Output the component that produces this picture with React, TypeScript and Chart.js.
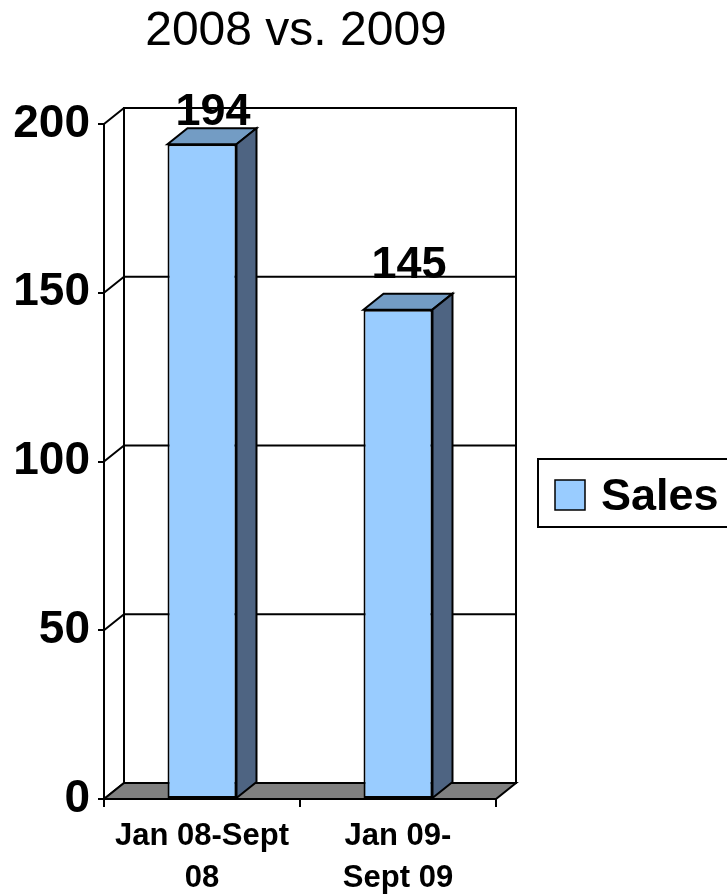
import React, { useEffect, useRef } from "react";
import { Chart, registerables } from "chart.js";

Chart.register(...registerables);

const categories: string[][] = [["Jan 08-Sept", "08"], ["Jan 09-", "Sept 09"]];
const salesValues: number[] = [194, 145];
const seriesName = "Sales";
const chartTitle = "2008 vs. 2009";
const yMin = 0;
const yMax = 200;
const yStep = 50;

const FONT = '"Liberation Sans", Arial, Helvetica, sans-serif';
const FRONT = "#99CCFF";
const TOP = "#739CC4";
const SIDE = "#4E6482";
const FLOOR = "#808080";
const DX = 20;
const DY = -16;
const LW = 2;

const threeD = {
  id: "threeD",
  beforeDatasetsDraw(chart: any) {
    const { ctx, chartArea: a, scales } = chart;
    const y = scales.y;
    ctx.save();
    ctx.lineWidth = LW;
    ctx.strokeStyle = "#000";
    // back wall
    ctx.fillStyle = "#fff";
    ctx.fillRect(a.left + DX, a.top + DY, a.width, a.height);
    ctx.strokeRect(a.left + DX, a.top + DY, a.width, a.height);
    // gridlines on back wall + side wall diagonals
    y.ticks.forEach((t: any) => {
      const py = y.getPixelForValue(t.value);
      ctx.beginPath();
      ctx.moveTo(a.left + DX, py + DY);
      ctx.lineTo(a.right + DX, py + DY);
      ctx.moveTo(a.left, py);
      ctx.lineTo(a.left + DX, py + DY);
      ctx.stroke();
    });
    // floor
    ctx.beginPath();
    ctx.moveTo(a.left, a.bottom);
    ctx.lineTo(a.right, a.bottom);
    ctx.lineTo(a.right + DX, a.bottom + DY);
    ctx.lineTo(a.left + DX, a.bottom + DY);
    ctx.closePath();
    ctx.fillStyle = FLOOR;
    ctx.fill();
    ctx.stroke();
    ctx.restore();
  },
  afterDatasetsDraw(chart: any) {
    const { ctx, chartArea: a } = chart;
    const meta = chart.getDatasetMeta(0);
    ctx.save();
    ctx.lineWidth = LW;
    ctx.strokeStyle = "#000";
    ctx.lineJoin = "miter";
    meta.data.forEach((bar: any, i: number) => {
      const { x, y, width, base } = bar.getProps(["x", "y", "width", "base"], true);
      const l = x - width / 2;
      const r = x + width / 2;
      // top face
      ctx.beginPath();
      ctx.moveTo(l, y);
      ctx.lineTo(r, y);
      ctx.lineTo(r + DX, y + DY);
      ctx.lineTo(l + DX, y + DY);
      ctx.closePath();
      ctx.fillStyle = TOP;
      ctx.fill();
      ctx.stroke();
      // side face
      ctx.beginPath();
      ctx.moveTo(r, y);
      ctx.lineTo(r + DX, y + DY);
      ctx.lineTo(r + DX, base + DY);
      ctx.lineTo(r, base);
      ctx.closePath();
      ctx.fillStyle = SIDE;
      ctx.fill();
      ctx.stroke();
      // value label
      const v = chart.data.datasets[0].data[i];
      ctx.fillStyle = "#000";
      ctx.font = `bold 45px ${FONT}`;
      ctx.textAlign = "center";
      ctx.textBaseline = "alphabetic";
      const by = Math.max(y - 32, a.top + 1);
      ctx.fillText(String(v), x + 11, by);
    });
    ctx.restore();
  },
  afterDraw(chart: any) {
    const { ctx } = chart;
    ctx.save();
    // title
    ctx.fillStyle = "#000";
    ctx.font = `normal 48px ${FONT}`;
    ctx.textAlign = "center";
    ctx.textBaseline = "alphabetic";
    ctx.fillText(chartTitle, 296, 45);
    // legend
    ctx.lineWidth = LW;
    ctx.strokeStyle = "#000";
    ctx.fillStyle = "#fff";
    ctx.fillRect(538, 459, 200, 68);
    ctx.strokeRect(538, 459, 200, 68);
    ctx.fillStyle = chart.data.datasets[0].backgroundColor;
    ctx.fillRect(555, 480, 30, 30);
    ctx.lineWidth = 1.5;
    ctx.strokeRect(555, 480, 30, 30);
    ctx.fillStyle = "#000";
    ctx.font = `bold 45px ${FONT}`;
    ctx.textAlign = "left";
    ctx.fillText(chart.data.datasets[0].label, 601, 510);
    ctx.restore();
  },
};

export default function App() {
  const ref = useRef<HTMLCanvasElement | null>(null);
  useEffect(() => {
    document.body.style.margin = "0";
    const canvas = ref.current;
    if (!canvas) return;
    const chart = new Chart(canvas, {
      type: "bar",
      data: {
        labels: categories,
        datasets: [
          {
            label: seriesName,
            data: salesValues,
            backgroundColor: FRONT,
            borderColor: "#000",
            borderWidth: LW,
            borderSkipped: false,
            categoryPercentage: 1,
            barPercentage: 0.352,
          } as any,
        ],
      },
      options: {
        responsive: false,
        animation: false,
        devicePixelRatio: 1,
        layout: { padding: { top: 124, right: 231, left: 0, bottom: 0 } },
        plugins: {
          legend: { display: false },
          title: { display: false },
          tooltip: { enabled: false },
        },
        scales: {
          x: {
            offset: true,
            grid: { offset: true, drawOnChartArea: false, drawTicks: true, tickLength: 8, color: "#000", lineWidth: LW },
            border: { display: true, color: "#000", width: LW },
            ticks: {
              color: "#000",
              padding: 9,
              maxRotation: 0,
              autoSkip: false,
              font: { family: FONT, size: 31, weight: "bold", lineHeight: 1.35 },
            },
            afterFit(scale: any) {
              scale.height = 95;
            },
          },
          y: {
            min: yMin,
            max: yMax,
            grid: { drawOnChartArea: false, drawTicks: true, tickLength: 6, color: "#000", lineWidth: LW },
            border: { display: true, color: "#000", width: LW },
            ticks: {
              stepSize: yStep,
              color: "#000",
              padding: 8,
              font: { family: FONT, size: 46, weight: "bold" },
            },
            afterFit(scale: any) {
              scale.width = 104;
            },
          },
        },
      },
      plugins: [threeD],
    });
    return () => chart.destroy();
  }, []);
  return (
    <div style={{ position: "absolute", left: 0, top: 0, width: 727, height: 894, background: "#fff" }}>
      <canvas ref={ref} width={727} height={894} style={{ display: "block", width: 727, height: 894 }} />
    </div>
  );
}
